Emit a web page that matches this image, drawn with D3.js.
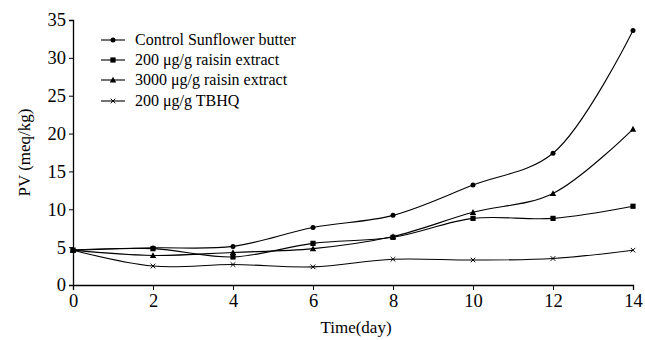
<!DOCTYPE html>
<meta charset="utf-8">
<style>
  body { margin: 0; background: #fff; }
  text { font-family: "Liberation Serif", "DejaVu Serif", serif; fill: #000; }
</style>
<svg width="645" height="340"></svg>
<script src="https://d3js.org/d3.v7.min.js"></script>
<script>
// days on the x axis
var days = [0, 2, 4, 6, 8, 10, 12, 14]
var xTicks = [0, 2, 4, 6, 8, 10, 12, 14]
var yTicks = [0, 5, 10, 15, 20, 25, 30, 35]

// PV values
var control = [4.6, 4.9, 5.1, 7.6, 9.2, 13.2, 17.4, 33.6]
var raisin200 = [4.6, 4.8, 3.7, 5.5, 6.3, 8.8, 8.8, 10.4]
var raisin3000 = [4.6, 3.9, 4.3, 4.8, 6.4, 9.6, 12.1, 20.6]
var tbhq = [4.6, 2.5, 2.7, 2.4, 3.4, 3.3, 3.5, 4.6]

var seriesNames = ['Control Sunflower butter', '200  \u03bcg/g raisin extract',
  '3000 \u03bcg/g raisin extract', '200  \u03bcg/g TBHQ']
var seriesValues = [control, raisin200, raisin3000, tbhq]
var seriesMarks = ['diamond', 'square', 'triangle', 'cross']

var svg = d3.select('svg')

var x = d3.scaleLinear().domain([0, 14]).range([73, 633])
var y = d3.scaleLinear().domain([0, 35]).range([285, 20])

// axes
svg.append('g')
  .attr('transform', 'translate(0,' + y(0) + ')')
  .call(d3.axisBottom(x).tickValues(xTicks).tickSize(5).tickPadding(4))
svg.append('g')
  .attr('transform', 'translate(' + x(0) + ',0)')
  .call(d3.axisLeft(y).tickValues(yTicks).tickSize(4).tickPadding(3))

svg.selectAll('.domain').attr('stroke', '#000').attr('stroke-width', 1.3)
svg.selectAll('.tick line').attr('stroke', '#000')
svg.selectAll('.tick text')
  .style('font-family', '"Liberation Serif", serif')
  .style('font-size', '18.5px')
  .attr('fill', '#000')

// axis titles
svg.append('text')
  .attr('x', 356).attr('y', 333)
  .attr('text-anchor', 'middle')
  .style('font-size', '17px')
  .text('Time(day)')
svg.append('text')
  .attr('transform', 'translate(30,' + y(17.5) + ') rotate(-90)')
  .attr('text-anchor', 'middle')
  .style('font-size', '17px')
  .text('PV  (meq/kg)')

var line = d3.line()
  .x(function (d, i) { return x(days[i]) })
  .y(function (d) { return y(d) })
  .curve(d3.curveCatmullRom.alpha(0.5))

function drawMark(g, kind, cx, cy) {
  if (kind === 'diamond') {
    g.append('circle').attr('cx', cx).attr('cy', cy).attr('r', 2.5).attr('fill', '#000')
  } else if (kind === 'square') {
    g.append('rect').attr('x', cx - 2.6).attr('y', cy - 2.6).attr('width', 5.2).attr('height', 5.2).attr('fill', '#000')
  } else if (kind === 'triangle') {
    g.append('path').attr('d', 'M' + cx + ',' + (cy - 3.2) + 'L' + (cx + 3.2) + ',' + (cy + 2.6) + 'L' + (cx - 3.2) + ',' + (cy + 2.6) + 'Z')
      .attr('fill', '#000')
  } else {
    g.append('path').attr('d', 'M' + (cx - 2.3) + ',' + (cy - 2.3) + 'L' + (cx + 2.3) + ',' + (cy + 2.3) +
      'M' + (cx + 2.3) + ',' + (cy - 2.3) + 'L' + (cx - 2.3) + ',' + (cy + 2.3))
      .attr('stroke', '#000').attr('stroke-width', 1)
  }
}

seriesValues.forEach(function (vals, s) {
  var g = svg.append('g')
  g.append('path').datum(vals)
    .attr('d', line)
    .attr('fill', 'none')
    .attr('stroke', '#000')
    .attr('stroke-width', 1.1)
  vals.forEach(function (v, i) { drawMark(g, seriesMarks[s], x(days[i]), y(v)) })
})

// legend
var legendY = [40, 60, 80, 101]
seriesNames.forEach(function (name, s) {
  var g = svg.append('g')
  g.append('line').attr('x1', 101).attr('x2', 125)
    .attr('y1', legendY[s]).attr('y2', legendY[s])
    .attr('stroke', '#000').attr('stroke-width', 1.1)
  drawMark(g, seriesMarks[s], 113, legendY[s])
  g.append('text').attr('x', 135).attr('y', legendY[s] + 5)
    .style('font-size', '16px')
    .text(name)
})
</script>
